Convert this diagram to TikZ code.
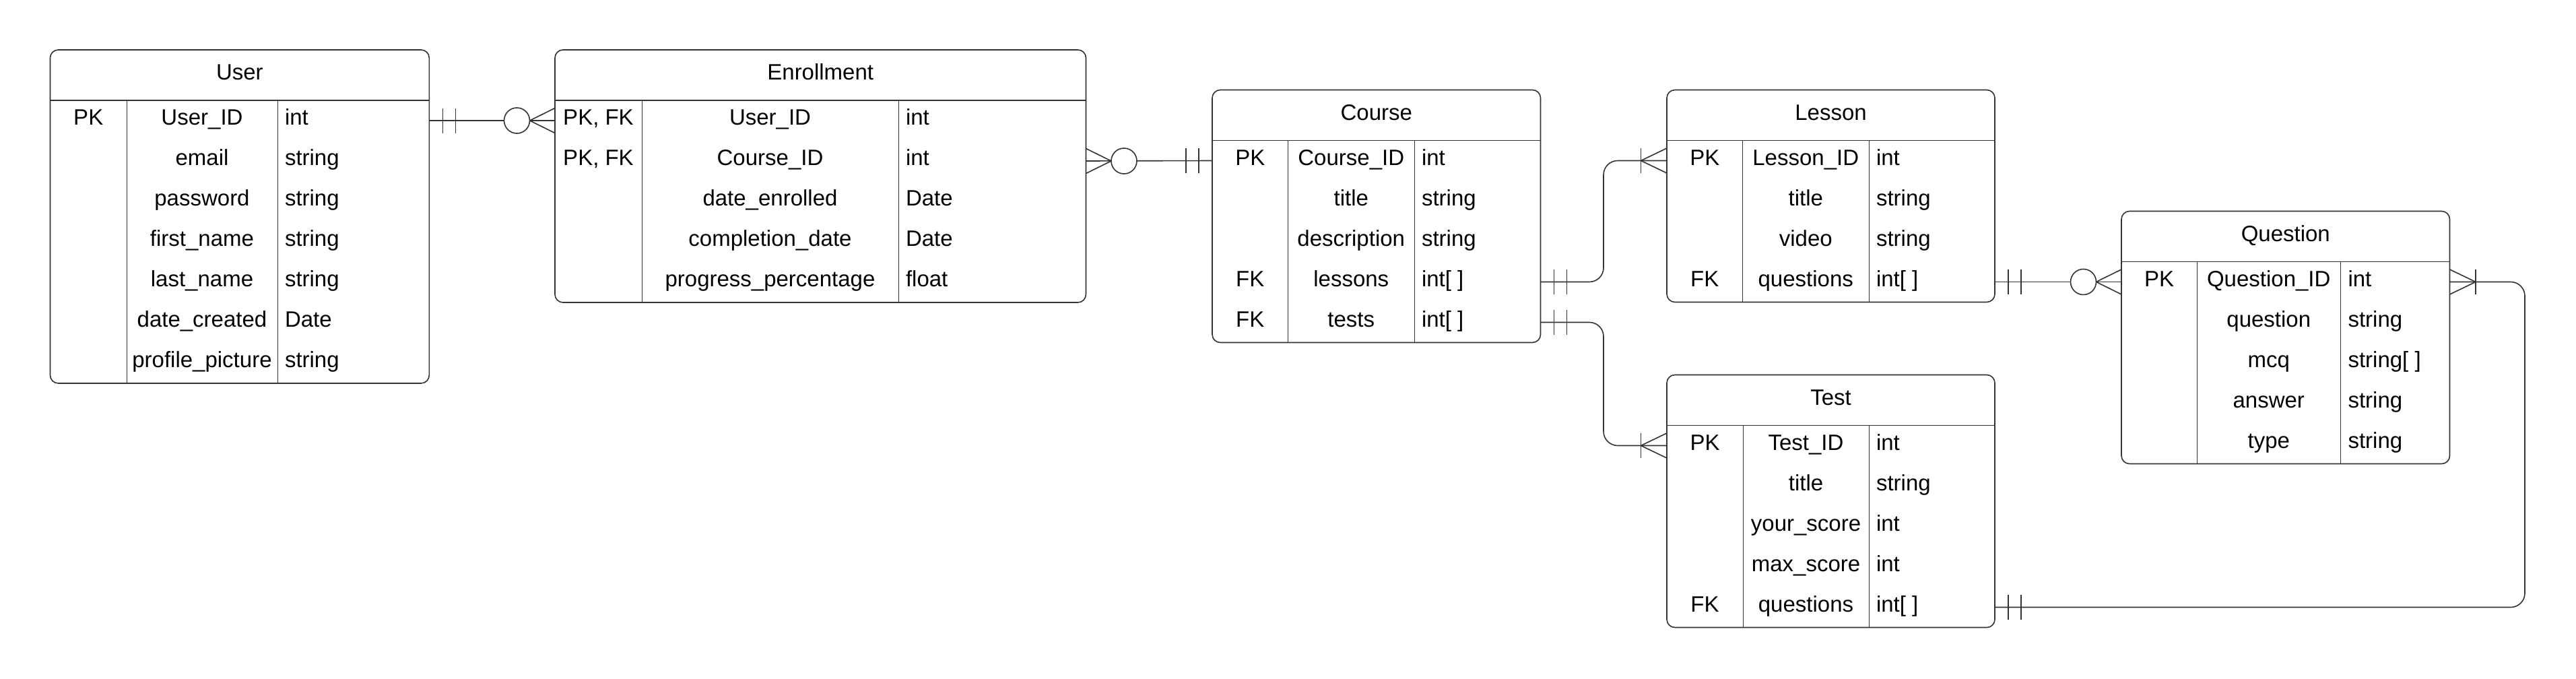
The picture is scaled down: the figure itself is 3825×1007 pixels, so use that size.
\documentclass[tikz,border=0pt]{standalone}
\usepackage{fontspec}
\setmainfont{Liberation Sans}
\usetikzlibrary{calc}
\definecolor{lc}{HTML}{333333}
\tikzset{
  entity/.style={draw=lc, line width=1.6pt, rounded corners=12pt, inner sep=0pt, outer sep=0pt},
  boxline/.style={draw=lc, line width=1.6pt},
  colline/.style={draw=lc, line width=1pt},
  conn/.style={draw=lc, line width=1.6pt},
  celltext/.style={inner sep=0pt, outer sep=0pt, text=black, font=\fontsize{33}{40}\selectfont},
}
\newcommand{\erbox}[8]{%
  \def\bxN{#1}\def\bxL{#2}\def\bxA{#3}\def\bxB{#4}\def\bxR{#5}\def\bxT{#6}%
  \pgfmathsetmacro\bxW{#5-#2}%
  \pgfmathsetmacro\bxH{75+60*#7}%
  \pgfmathsetmacro\bxBot{#6+75+60*#7}%
  \node[entity, minimum width=\bxW pt, minimum height=\bxH pt, anchor=north west] (#1) at (#2,#6) {};
  \draw[boxline] (#2,#6+75) -- (#5,#6+75);
  \draw[colline] (#3,#6+75) -- (#3,\bxBot);
  \draw[colline] (#4,#6+75) -- (#4,\bxBot);
  \node[celltext, anchor=base] (#1-title) at ({(#2+#5)/2},{#6+44.5}) {#8};
}
\newcommand{\errow}[4]{%
  \pgfmathsetmacro\rowY{\bxT+75+60*(#1-1)+36.5}%
  \pgfmathsetmacro\rowC{\bxT+75+60*(#1-0.5)}%
  \if\relax\detokenize{#2}\relax\else
    \node[celltext, anchor=base] (\bxN-k#1) at ({(\bxL+\bxA)/2},\rowY) {#2};
  \fi
  \node[celltext, anchor=base] (\bxN-f#1) at ({(\bxA+\bxB)/2},\rowY) {#3};
  \node[celltext, anchor=base west] (\bxN-t#1) at ({\bxB+11},\rowY) {#4};
  \coordinate (\bxN-L#1) at (\bxL,\rowC);
  \coordinate (\bxN-R#1) at (\bxR,\rowC);
}
\newcommand{\twobars}[2]{%
  \draw[conn] ($(#1)+(20*#2,-18.5)$) -- ++(0,37);
  \draw[conn] ($(#1)+(39*#2,-18.5)$) -- ++(0,37);
}
\newcommand{\zeromany}[2]{%
  \draw[conn] ($(#1)+(0,-18.5)$) -- ($(#1)+(37.5*#2,0)$) -- ($(#1)+(0,18.5)$);
  \draw[conn, fill=white] ($(#1)+(56.5*#2,0)$) circle[radius=19pt];
}
\newcommand{\onemany}[2]{%
  \draw[conn] ($(#1)+(0,-18.5)$) -- ($(#1)+(38.5*#2,0)$) -- ($(#1)+(0,18.5)$);
  \draw[conn] ($(#1)+(38.5*#2,-18.5)$) -- ++(0,37);
}
\begin{document}
\begin{tikzpicture}[x=1pt,y=-1pt]
\fill[white] (0,0) rectangle (3825,1007);
\useasboundingbox (0,0) rectangle (3825,1007);

% User
\erbox{user}{74.5}{188}{412}{637.3}{74}{7}{User}
\errow{1}{PK}{User\_ID}{int}
\errow{2}{}{email}{string}
\errow{3}{}{password}{string}
\errow{4}{}{first\_name}{string}
\errow{5}{}{last\_name}{string}
\errow{6}{}{date\_created}{Date}
\errow{7}{}{profile\_picture}{string}

% Enrollment
\erbox{enr}{824}{953}{1334}{1612.5}{74}{5}{Enrollment}
\errow{1}{PK, FK}{User\_ID}{int}
\errow{2}{PK, FK}{Course\_ID}{int}
\errow{3}{}{date\_enrolled}{Date}
\errow{4}{}{completion\_date}{Date}
\errow{5}{}{progress\_percentage}{float}

% Course
\erbox{course}{1800}{1912.5}{2100}{2287.5}{133.5}{5}{Course}
\errow{1}{PK}{Course\_ID}{int}
\errow{2}{}{title}{string}
\errow{3}{}{description}{string}
\errow{4}{FK}{lessons}{int[ ]}
\errow{5}{FK}{tests}{int[ ]}

% Lesson
\erbox{lesson}{2475}{2587.5}{2775}{2962}{133.5}{4}{Lesson}
\errow{1}{PK}{Lesson\_ID}{int}
\errow{2}{}{title}{string}
\errow{3}{}{video}{string}
\errow{4}{FK}{questions}{int[ ]}

% Test
\erbox{test}{2475}{2588}{2775}{2962}{556.5}{5}{Test}
\errow{1}{PK}{Test\_ID}{int}
\errow{2}{}{title}{string}
\errow{3}{}{your\_score}{int}
\errow{4}{}{max\_score}{int}
\errow{5}{FK}{questions}{int[ ]}

% Question
\erbox{question}{3150}{3262}{3475.5}{3637.5}{313.5}{5}{Question}
\errow{1}{PK}{Question\_ID}{int}
\errow{2}{}{question}{string}
\errow{3}{}{mcq}{string[ ]}
\errow{4}{}{answer}{string}
\errow{5}{}{type}{string}

% Connectors
\draw[conn] (user-R1) -- (enr-L1);
\twobars{user-R1}{1}
\zeromany{enr-L1}{-1}

\draw[conn] (enr-R2) -- (course-L1);
\zeromany{enr-R2}{1}
\twobars{course-L1}{-1}

\draw[conn, rounded corners=21pt] (course-R4) -- ++(93.5,0) |- (lesson-L1);
\twobars{course-R4}{1}
\onemany{lesson-L1}{-1}

\draw[conn, rounded corners=21pt] (course-R5) -- ++(93.5,0) |- (test-L1);
\twobars{course-R5}{1}
\onemany{test-L1}{-1}

\draw[conn] (lesson-R4) -- (question-L1);
\twobars{lesson-R4}{1}
\zeromany{question-L1}{-1}

\draw[conn, rounded corners=21pt] (test-R5) -| ($(question-R1)+(111.5,0)$) -- (question-R1);
\twobars{test-R5}{1}
\onemany{question-R1}{1}
\end{tikzpicture}
\end{document}
